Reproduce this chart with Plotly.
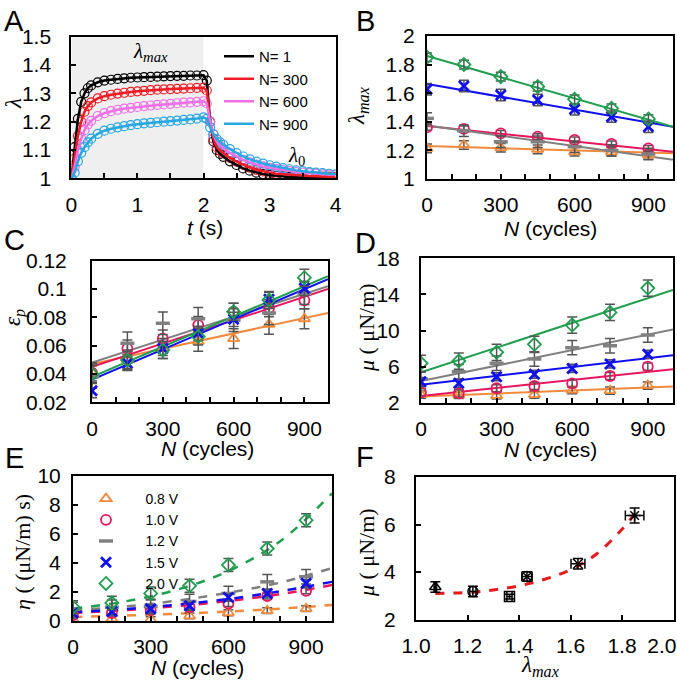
import plotly.graph_objects as go

W, H = 677, 683

# ---------------- DATA ----------------
# Panel A: stretch ratio lambda vs time for several cycle numbers
T_A = [0, 0.05, 0.1, 0.15, 0.2, 0.25, 0.3, 0.4, 0.5, 0.6, 0.7, 0.8, 0.9, 1.0, 1.1, 1.2, 1.3, 1.4,
       1.5, 1.6, 1.7, 1.8, 1.9, 2.0, 2.05, 2.1, 2.15, 2.2, 2.25, 2.3, 2.4, 2.5, 2.6, 2.7, 2.8, 2.9,
       3.0, 3.1, 3.2, 3.3, 3.4, 3.5, 3.6, 3.7, 3.8, 3.9, 4.0]
LAM_N1 = [1.0, 1.11, 1.21, 1.27, 1.3, 1.318, 1.328, 1.339, 1.345, 1.348, 1.351, 1.353, 1.355, 1.356,
          1.357, 1.358, 1.359, 1.36, 1.361, 1.362, 1.362, 1.363, 1.363, 1.364, 1.345, 1.2, 1.13, 1.1,
          1.086, 1.076, 1.06, 1.047, 1.035, 1.027, 1.02, 1.015, 1.012, 1.009, 1.007, 1.005, 1.004,
          1.003, 1.002, 1.002, 1.001, 1.001, 1.0]
LAM_N300 = [1.0, 1.07, 1.15, 1.2, 1.235, 1.255, 1.268, 1.282, 1.29, 1.295, 1.299, 1.302, 1.305, 1.307,
            1.309, 1.311, 1.313, 1.314, 1.315, 1.316, 1.317, 1.318, 1.319, 1.32, 1.31, 1.2, 1.14, 1.11,
            1.097, 1.088, 1.072, 1.059, 1.048, 1.038, 1.03, 1.024, 1.02, 1.016, 1.014, 1.012, 1.01,
            1.009, 1.008, 1.007, 1.006, 1.006, 1.005]
LAM_N600 = [1.0, 1.04, 1.1, 1.14, 1.17, 1.19, 1.203, 1.22, 1.23, 1.237, 1.242, 1.246, 1.249, 1.252,
            1.255, 1.257, 1.259, 1.261, 1.263, 1.265, 1.267, 1.268, 1.27, 1.272, 1.265, 1.2, 1.155, 1.13,
            1.115, 1.105, 1.09, 1.076, 1.065, 1.056, 1.048, 1.042, 1.037, 1.033, 1.029, 1.025, 1.022,
            1.02, 1.018, 1.016, 1.014, 1.013, 1.012]
LAM_N900 = [1.0, 1.02, 1.06, 1.09, 1.11, 1.127, 1.14, 1.157, 1.168, 1.175, 1.18, 1.184, 1.188, 1.191,
            1.194, 1.196, 1.198, 1.2, 1.202, 1.204, 1.206, 1.208, 1.211, 1.215, 1.21, 1.18, 1.155, 1.138,
            1.127, 1.118, 1.103, 1.089, 1.077, 1.067, 1.059, 1.052, 1.046, 1.041, 1.036, 1.032, 1.028,
            1.025, 1.022, 1.02, 1.018, 1.016, 1.014]
A_LABELS = ["N= 1", "N= 300", "N= 600", "N= 900"]
STIM_T = [0, 2]

# Panels B-E: cycle numbers and voltages
N_CYC = [0, 150, 300, 450, 600, 750, 900]
VOLTS = ["0.8 V", "1.0 V", "1.2 V", "1.5 V", "2.0 V"]
FIT_N = [0, 1000]

# Panel B: lambda_max
B_08 = [1.214, 1.238, 1.219, 1.207, 1.19, 1.19, 1.168]
B_10 = [1.361, 1.35, 1.319, 1.296, 1.273, 1.245, 1.214]
B_12 = [1.424, 1.338, 1.26, 1.26, 1.226, 1.2, 1.175]
B_15 = [1.627, 1.65, 1.587, 1.552, 1.487, 1.436, 1.366]
B_20 = [1.851, 1.8, 1.716, 1.646, 1.557, 1.494, 1.42]
B_ERR = [0.03, 0.02, 0.04, 0.04, 0.03]
B_FIT_08 = [1.23, 1.18]
B_FIT_10 = [1.37, 1.19]
B_FIT_12 = [1.375, 1.135]
B_FIT_15 = [1.665, 1.365]
B_FIT_20 = [1.86, 1.365]

# Panel C: plastic strain
C_08 = [0.041, 0.05, 0.058, 0.063, 0.065, 0.075, 0.079]
C_10 = [0.041, 0.058, 0.065, 0.0746, 0.084, 0.0864, 0.092]
C_12 = [0.038, 0.0617, 0.0758, 0.079, 0.078, 0.083, 0.097]
C_15 = [0.0282, 0.0475, 0.058, 0.0687, 0.0786, 0.0927, 0.1005]
C_20 = [0.04, 0.0499, 0.057, 0.0664, 0.084, 0.0922, 0.108]
C_ERR = [0.007, 0.006, 0.008, 0.005, 0.006]
C_FIT_08 = [0.047, 0.083]
C_FIT_10 = [0.045, 0.1]
C_FIT_12 = [0.048, 0.102]
C_FIT_15 = [0.036, 0.107]
C_FIT_20 = [0.038, 0.109]

# Panel D: shear modulus
D_08 = [2.9, 2.87, 2.8, 2.9, 3.4, 3.33, 3.9]
D_10 = [3.15, 3.04, 3.6, 3.85, 4.14, 4.96, 6.0]
D_12 = [4.6, 5.43, 6.37, 6.84, 8.1, 8.3, 9.5]
D_15 = [4.33, 4.15, 4.88, 5.15, 5.8, 6.3, 7.36]
D_20 = [6.37, 6.62, 7.58, 8.47, 10.6, 12.0, 14.7]
D_ERR = [0.4, 0.4, 0.8, 0.45, 0.9]
D_FIT_08 = [2.7, 3.8]
D_FIT_10 = [2.75, 5.7]
D_FIT_12 = [4.4, 10.1]
D_FIT_15 = [4.0, 7.25]
D_FIT_20 = [5.37, 14.5]

# Panel E: viscosity
E_08 = [0.1, 0.15, 0.1, 0.35, 0.57, 0.71, 0.85]
E_10 = [0.4, 0.55, 0.75, 0.95, 1.2, 1.72, 2.08]
E_12 = [0.8, 0.95, 1.0, 1.35, 1.9, 2.7, 3.05]
E_15 = [0.55, 0.65, 0.85, 1.05, 1.63, 1.9, 2.6]
E_20 = [0.95, 1.25, 1.9, 2.43, 3.86, 5.0, 6.95]
E_ERR = [0.2, 0.2, 0.5, 0.25, 0.45]
E_FIT_N = [0, 200, 400, 600, 800, 1000]
E_FIT_08 = [0.28, 0.38, 0.5, 0.65, 0.85, 1.1]
E_FIT_10 = [0.55, 0.75, 1.02, 1.38, 1.85, 2.48]
E_FIT_12 = [0.75, 1.0, 1.4, 1.95, 2.65, 3.65]
E_FIT_15 = [0.6, 0.82, 1.12, 1.52, 2.05, 2.7]
E_FIT_20 = [0.85, 1.35, 2.15, 3.45, 5.5, 8.8]

# Panel F: mu vs lambda_max
F_LAM = [1.075, 1.221, 1.363, 1.431, 1.629, 1.849]
F_MU = [3.37, 3.18, 2.97, 3.81, 4.35, 6.38]
F_LAM_ERR = [0.005, 0.012, 0.01, 0.02, 0.027, 0.036]
F_MU_ERR = [0.22, 0.22, 0.1, 0.2, 0.22, 0.32]
F_FIT_LAM = [1.075, 1.2, 1.3, 1.4, 1.5, 1.6, 1.7, 1.8, 1.85]
F_FIT_MU = [3.1, 3.14, 3.25, 3.42, 3.7, 4.1, 4.75, 5.8, 6.45]
F_XTICKS = [1.0, 1.2, 1.4, 1.6, 1.8, 2.0]
F_XTICKTEXT = ["1.0", "1.2", "1.4", "1.6", "1.8", "2.0    "]

# ---------------- STYLE ----------------
A_COLORS = ["#000000", "#ee1c25", "#ef6fe8", "#27a8e0"]
V_COLORS = ["#f28a3c", "#e8175d", "#808080", "#1010ee", "#1f9e4f"]
V_SYMBOLS = ["triangle-up-open", "circle-open", "line-ew-open", "x-thin-open", "diamond-open"]
V_MLW = [1.8, 1.8, 3.5, 2.8, 1.8]
SANS = "Liberation Sans, Arial, sans-serif"
SERIF = "Liberation Serif, Times New Roman, serif"
TICK_SIZE = 21


def fx(p):
    return p / W


def fy(p):
    return 1 - p / H


DOM = {
    "": ((71.3, 335.7), (36.7, 178.3)),
    "2": ((427, 673), (36, 179)),
    "3": ((92, 328), (260.7, 402.3)),
    "4": ((421, 673), (258.3, 402.7)),
    "5": ((73, 332), (476, 621)),
    "6": ((416, 673.5), (477, 619.6)),
}

fig = go.Figure()

# ---- Panel A ----
A_SERIES = [LAM_N1, LAM_N300, LAM_N600, LAM_N900]
for lab, ys, c in zip(A_LABELS, A_SERIES, A_COLORS):
    fig.add_trace(go.Scatter(x=T_A, y=ys, mode="markers", xaxis="x", yaxis="y",
                             marker=dict(symbol="circle-open", size=9, color=c, line=dict(width=1.2)),
                             showlegend=False, hoverinfo="skip"))
for lab, ys, c in zip(A_LABELS, A_SERIES, A_COLORS):
    fig.add_trace(go.Scatter(x=T_A, y=ys, mode="lines", xaxis="x", yaxis="y", name=lab,
                             line=dict(color=c, width=2.5), legend="legend"))


# ---- Panels B-E ----
def add_panel(ax, series, errs, fits, fit_n, dashed=False, legend=None):
    for i, (ys, e, fit) in enumerate(zip(series, errs, fits)):
        fig.add_trace(go.Scatter(x=fit_n, y=fit, mode="lines", xaxis="x" + ax, yaxis="y" + ax,
                                 line=dict(color=V_COLORS[i], width=2.5 if dashed else 2,
                                           dash="dash" if dashed else "solid",
                                           shape="spline" if dashed else "linear"),
                                 showlegend=False, hoverinfo="skip"))
    for i, (ys, e) in enumerate(zip(series, errs)):
        if legend:
            kw = dict(name="     " + VOLTS[i], legend=legend, showlegend=True)
        else:
            kw = dict(showlegend=False)
        fig.add_trace(go.Scatter(x=N_CYC, y=ys, mode="markers", xaxis="x" + ax, yaxis="y" + ax,
                                 error_y=dict(type="constant", value=e, color="#555555",
                                              thickness=1.5, width=5),
                                 marker=dict(symbol=V_SYMBOLS[i], size=10, color=V_COLORS[i],
                                             line=dict(width=V_MLW[i], color=V_COLORS[i])),
                                 **kw))


add_panel("2", [B_08, B_10, B_12, B_15, B_20], B_ERR,
          [B_FIT_08, B_FIT_10, B_FIT_12, B_FIT_15, B_FIT_20], FIT_N)
add_panel("3", [C_08, C_10, C_12, C_15, C_20], C_ERR,
          [C_FIT_08, C_FIT_10, C_FIT_12, C_FIT_15, C_FIT_20], FIT_N)
add_panel("4", [D_08, D_10, D_12, D_15, D_20], D_ERR,
          [D_FIT_08, D_FIT_10, D_FIT_12, D_FIT_15, D_FIT_20], FIT_N)
add_panel("5", [E_08, E_10, E_12, E_15, E_20], E_ERR,
          [E_FIT_08, E_FIT_10, E_FIT_12, E_FIT_15, E_FIT_20], E_FIT_N, dashed=True, legend="legend2")

# ---- Panel F ----
fig.add_trace(go.Scatter(x=F_FIT_LAM, y=F_FIT_MU, mode="lines", xaxis="x6", yaxis="y6",
                         line=dict(color="#e41a1c", width=3, dash="dash", shape="spline"),
                         showlegend=False, hoverinfo="skip"))
fig.add_trace(go.Scatter(x=F_LAM, y=F_MU, mode="markers", xaxis="x6", yaxis="y6",
                         error_x=dict(type="data", array=F_LAM_ERR, color="black", thickness=1.5, width=5),
                         error_y=dict(type="data", array=F_MU_ERR, color="black", thickness=1.5, width=5),
                         marker=dict(symbol=["triangle-up-open", "circle-open", "square-open",
                                             "circle-x-open", "x-thin-open", "asterisk-open"],
                                     size=10, color="black", line=dict(width=1.5, color="black")),
                         showlegend=False))


# ---------------- LAYOUT ----------------
def axis(dom, **kw):
    d = dict(domain=dom, showline=True, linecolor="black", linewidth=2, mirror=True,
             ticks="inside", ticklen=5, tickwidth=1.5, tickcolor="black", automargin=False,
             showgrid=False, zeroline=False, fixedrange=True, ticklabeloverflow="allow",
             tickfont=dict(family=SANS, size=TICK_SIZE, color="black"))
    d.update(kw)
    return d


def minor(dt):
    return dict(ticks="inside", ticklen=5, tickwidth=1.5, tickcolor="black", dtick=dt, showgrid=False)


XS = 6
xcfg = {
    "": dict(range=[0, 4], dtick=1, tick0=0, minor=minor(0.5), ticklabelstandoff=XS),
    "2": dict(range=[0, 1000], dtick=300, tick0=0, minor=minor(100), ticklabelstandoff=XS),
    "3": dict(range=[0, 1000], dtick=300, tick0=0, minor=minor(100), ticklabelstandoff=XS),
    "4": dict(range=[0, 1000], dtick=300, tick0=0, minor=minor(100), ticklabelstandoff=XS),
    "5": dict(range=[0, 1000], dtick=300, tick0=0, minor=minor(100), ticklabelstandoff=XS),
    "6": dict(range=[1.0, 2.0], tickmode="array", tickvals=F_XTICKS,
              ticktext=F_XTICKTEXT, ticklabelstandoff=XS),
}
ycfg = {
    "": dict(range=[1, 1.5], dtick=0.1, tick0=1, ticklabelstandoff=14),
    "2": dict(range=[1, 2], dtick=0.2, tick0=1, ticklabelstandoff=6),
    "3": dict(range=[0.02, 0.12], dtick=0.02, tick0=0.02, ticklabelstandoff=19),
    "4": dict(range=[2, 18], dtick=4, tick0=2, ticklabelstandoff=15),
    "5": dict(range=[0, 10], dtick=2, tick0=0, ticklabelstandoff=6),
    "6": dict(range=[2, 8], dtick=2, tick0=2, ticklabelstandoff=14),
}
lay = {}
for k, ((x0, x1), (y0, y1)) in DOM.items():
    lay["xaxis" + k] = axis([fx(x0), fx(x1)], anchor="y" + k, **xcfg[k])
    lay["yaxis" + k] = axis([fy(y1), fy(y0)], anchor="x" + k, **ycfg[k])

ann = []


def txt(s, x, y, size=20, fam=SANS, angle=0):
    ann.append(dict(text=s, x=fx(x), y=fy(y), xref="paper", yref="paper", showarrow=False,
                    xanchor="center", yanchor="middle", textangle=angle,
                    font=dict(family=fam, size=size, color="black")))


# panel letters
for L, (x, y) in zip("ABCDEF", [(14, 21), (365, 21), (14, 240), (365, 243), (14, 458), (365, 457)]):
    txt(L, x, y, size=29)

# x titles
txt("<i>t</i> (s)", 205, 227, size=21)
txt("<i>N</i> (cycles)", 550, 228, size=21)
txt("<i>N</i> (cycles)", 207, 448, size=21)
txt("<i>N</i> (cycles)", 550, 449, size=21)
txt("<i>N</i> (cycles)", 198, 667, size=21)
txt("<i>λ</i><sub><i>max</i></sub>", 540, 666, size=23, fam=SERIF)

# y titles
txt("<i>λ</i>", 13, 104, size=23, fam=SERIF, angle=-90)
txt("<i>λ</i><sub><i>max</i></sub>", 358, 106, size=23, fam=SERIF, angle=-90)
txt("<i>ε</i><sub><i>p</i></sub>", 15, 318, size=23, fam=SERIF, angle=-90)
txt("<i>μ</i> ( μN/m)", 366, 327, size=22, fam=SERIF, angle=-90)
txt("<i>η</i> ( (μN/m) s)", 22, 552, size=22, fam=SERIF, angle=-90)
txt("<i>μ</i> ( μN/m)", 366, 552, size=22, fam=SERIF, angle=-90)

# in-plot labels for panel A
txt("<i>λ</i><sub><i>max</i></sub>", 150, 52, size=21, fam=SERIF)
txt("<i>λ</i><sub>0</sub>", 296, 156, size=21, fam=SERIF)

fig.update_layout(
    template="none",
    width=W, height=H, autosize=False,
    margin=dict(l=0, r=0, t=0, b=0, pad=0),
    paper_bgcolor="white", plot_bgcolor="white",
    font=dict(family=SANS, color="black"),
    annotations=ann,
    shapes=[dict(type="rect", xref="x", yref="y domain", x0=STIM_T[0], x1=STIM_T[1], y0=0, y1=1,
                 fillcolor="#efefef", line=dict(width=0), layer="below")],
    legend=dict(x=fx(219), y=fy(40), xanchor="left", yanchor="top", bgcolor="rgba(0,0,0,0)",
                font=dict(family=SANS, size=15, color="black"), tracegroupgap=0, itemwidth=30),
    legend2=dict(x=fx(86), y=fy(483), xanchor="left", yanchor="top", bgcolor="rgba(0,0,0,0)",
                 font=dict(family=SANS, size=14, color="black"), tracegroupgap=0, itemwidth=30),
    **lay,
)

fig.write_html("out.html", config={"displayModeBar": False},
               post_script="document.body.style.margin='0px';document.body.style.overflow='hidden';")
